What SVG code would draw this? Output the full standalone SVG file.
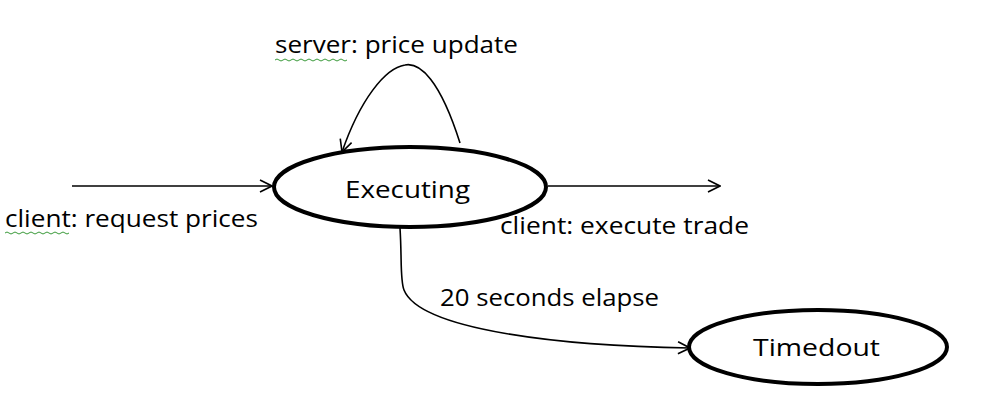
<svg xmlns="http://www.w3.org/2000/svg" width="985" height="418" viewBox="0 0 985 418">
<style>
.n{fill:#fff;stroke:#000;stroke-width:4}
.c{fill:none;stroke:#000;stroke-width:1.6}
.t{font-family:"Open Sans","Liberation Sans",sans-serif;fill:#000;font-size:23px}
.sq{fill:none;stroke:#3a9a3a;stroke-width:1}
</style>
<defs>
<marker id="a" markerWidth="14" markerHeight="14" refX="13" refY="7" orient="auto" markerUnits="userSpaceOnUse">
<path d="M1,1 L13,7 L1,13" fill="none" stroke="#000" stroke-width="1.6"/>
</marker>
</defs>
<rect width="985" height="418" fill="#fff"/>
<g id="connectors">
<path class="c" d="M72,186 L272,186" marker-end="url(#a)"/>
<path class="c" d="M548,186 L720,186" marker-end="url(#a)"/>
<path class="c" d="M460,143 C440,80 420,62 405,65 C385,68 360,100 342,152" marker-end="url(#a)"/>
<path class="c" d="M400,228 C402,260 400,280 404,290 C420,330 560,346 690,348" marker-end="url(#a)"/>
</g>
<g id="executing">
<ellipse class="n" cx="410" cy="187" rx="136" ry="40"/>
<text class="t" x="345" y="198" font-size="25" textLength="125" lengthAdjust="spacingAndGlyphs">Executing</text>
</g>
<g id="timedout">
<ellipse class="n" cx="818" cy="347" rx="129" ry="37"/>
<text class="t" x="753" y="356" font-size="25" textLength="127" lengthAdjust="spacingAndGlyphs">Timedout</text>
</g>
<g id="labels">
<text class="t" x="275" y="53" textLength="243" lengthAdjust="spacingAndGlyphs">server: price update</text>
<path class="sq" d="M275,60 q2,-2 4,0 t4,0 t4,0 t4,0 t4,0 t4,0 t4,0 t4,0 t4,0 t4,0 t4,0 t4,0 t4,0 t4,0 t4,0 t4,0 t4,0 t4,0"/>
<text class="t" x="5" y="227" textLength="253" lengthAdjust="spacingAndGlyphs">client: request prices</text>
<path class="sq" d="M5,233 q2,-2 4,0 t4,0 t4,0 t4,0 t4,0 t4,0 t4,0 t4,0 t4,0 t4,0 t4,0 t4,0 t4,0 t4,0 t4,0 t4,0"/>
<text class="t" x="500" y="234" textLength="249" lengthAdjust="spacingAndGlyphs">client: execute trade</text>
<text class="t" x="440" y="306" textLength="219" lengthAdjust="spacingAndGlyphs">20 seconds elapse</text>
</g>
</svg>
